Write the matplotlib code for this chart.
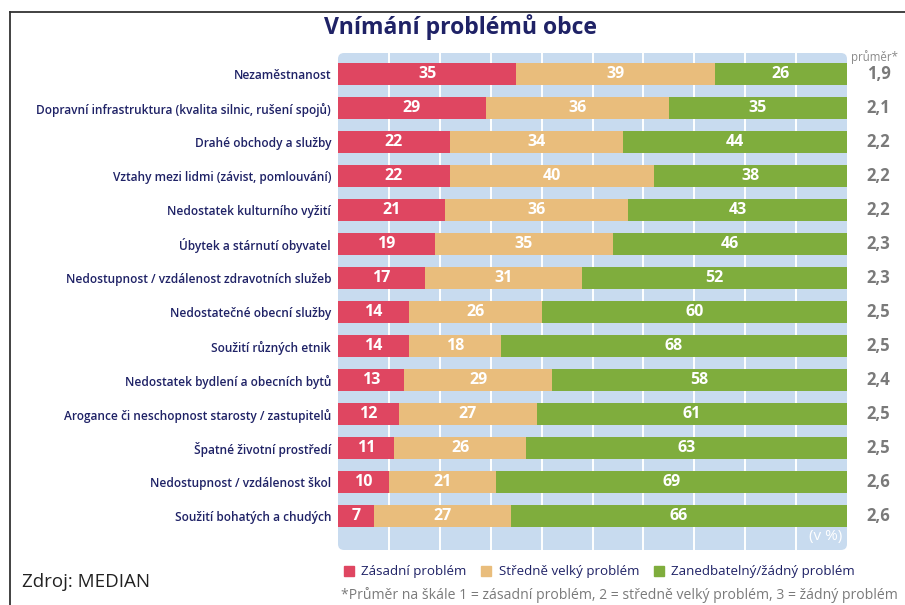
import matplotlib.pyplot as plt
import numpy as np
from matplotlib.patches import FancyBboxPatch
from matplotlib.lines import Line2D

plt.rcParams['font.family'] = ['Open Sans', 'DejaVu Sans']

categories = [
    "Nezaměstnanost",
    "Dopravní infrastruktura (kvalita silnic, rušení spojů)",
    "Drahé obchody a služby",
    "Vztahy mezi lidmi (závist, pomlouvání)",
    "Nedostatek kulturního vyžití",
    "Úbytek a stárnutí obyvatel",
    "Nedostupnost / vzdálenost zdravotních služeb",
    "Nedostatečné obecní služby",
    "Soužití různých etnik",
    "Nedostatek bydlení a obecních bytů",
    "Arogance či neschopnost starosty / zastupitelů",
    "Špatné životní prostředí",
    "Nedostupnost / vzdálenost škol",
    "Soužití bohatých a chudých",
]
zasadni = [35, 29, 22, 22, 21, 19, 17, 14, 14, 13, 12, 11, 10, 7]
stredne = [39, 36, 34, 40, 36, 35, 31, 26, 18, 29, 27, 26, 21, 27]
zanedbatelny = [26, 35, 44, 38, 43, 46, 52, 60, 68, 58, 61, 63, 69, 66]
prumer = ["1,9", "2,1", "2,2", "2,2", "2,2", "2,3", "2,3", "2,5", "2,5", "2,4", "2,5", "2,5", "2,6", "2,6"]
series_names = ["Zásadní problém", "Středně velký problém", "Zanedbatelný/žádný problém"]

colors = ["#df4661", "#e9bd7c", "#7fad3d"]
navy = "#1f2266"
bg = "#c8dbef"

fig = plt.figure(figsize=(9.05, 6.05), dpi=100)
ax = fig.add_axes([338/905, 1-550/605, (847-338)/905, (550-53)/605])
ax.set_facecolor("none")
for s in ax.spines.values():
    s.set_visible(False)

# rounded background
ax.add_patch(FancyBboxPatch((0, 0), 1, 1, boxstyle="round,pad=0,rounding_size=0.012",
                            transform=ax.transAxes, facecolor=bg, edgecolor="none",
                            zorder=0))

y = np.arange(len(categories))
ax.set_xlim(0, 100)
ax.set_ylim(14.0, -0.62)
for gx in range(10, 100, 10):
    ax.axvline(gx, color="white", lw=1.4, zorder=1)

h = 0.66
left = np.zeros(len(categories))
for vals, col, name in zip([zasadni, stredne, zanedbatelny], colors, series_names):
    vals = np.array(vals)
    ax.barh(y, vals, left=left, height=h, color=col, label=name, zorder=2)
    for yi, l, v in zip(y, left, vals):
        ax.text(l + v/2, yi, str(v), ha="center", va="center", color="white",
                fontsize=11.5, fontweight="bold", zorder=3)
    left = left + vals

ax.set_yticks(y)
ax.set_yticklabels(categories, fontsize=8.6, color=navy, fontweight="semibold")
ax.tick_params(axis="y", length=0, pad=5)
ax.set_xticks([])

for yi, m in zip(y, prumer):
    ax.text(106.2, yi, m, ha="center", va="center", color="#7a7a7a",
            fontsize=12, fontweight="bold", clip_on=False)
ax.text(100.8, -0.5, "průměr*", ha="left", va="center", color="#8a8a8a",
        fontsize=8.3, clip_on=False)
ax.text(99, 13.6, "(v %)", ha="right", va="center", color="white", fontsize=11)

fig.text(460/905, 1-27/605, "Vnímání problémů obce", ha="center", va="center",
         color=navy, fontsize=16.6, fontweight="bold", fontstretch="condensed")

handles = [plt.Rectangle((0, 0), 1, 1, color=c) for c in colors]
fig.legend(handles, series_names, loc="center left", bbox_to_anchor=(344/905, 1-572/605),
           ncol=3, frameon=False, fontsize=9.6, handlelength=0.75, handleheight=0.75,
           handletextpad=0.55, columnspacing=1.1, labelcolor=navy, borderaxespad=0, borderpad=0)

fig.text(898/905, 1-595/605,
         "*Průměr na škále 1 = zásadní problém, 2 = středně velký problém, 3 = žádný problém",
         ha="right", va="center", color="#7a7a7a", fontsize=10.1)

fig.text(22/905, 1-582/605, "Zdroj: MEDIAN", ha="left", va="center", color="#222222",
         fontsize=13.5)

# frame lines
fig.add_artist(Line2D([10/905, 10/905], [0, 1-12/605], transform=fig.transFigure,
                      color="#333333", lw=1.3))
fig.add_artist(Line2D([10/905, 1], [1-12/605, 1-12/605], transform=fig.transFigure,
                      color="#333333", lw=1.3))

fig.savefig("out.png", dpi=100, facecolor="white")
